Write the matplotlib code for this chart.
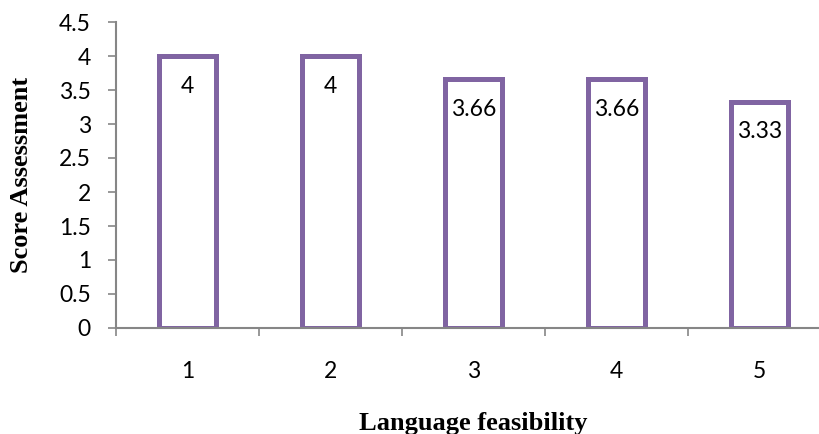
import matplotlib
matplotlib.use("Agg")
import matplotlib.pyplot as plt
from matplotlib.ticker import MultipleLocator, FixedLocator

categories = ["1", "2", "3", "4", "5"]
scores = [4, 4, 3.66, 3.66, 3.33]
score_labels = ["4", "4", "3.66", "3.66", "3.33"]

purple = "#8064A2"
axis_gray = "#868686"
tick_font = "Lato"
title_font = "Liberation Serif"

fig = plt.figure(figsize=(8.2, 4.34), dpi=100)
ax = fig.add_axes([116 / 820, 106 / 434, 715 / 820, 306 / 434])

x = list(range(1, len(categories) + 1))
bars = ax.bar(x, scores, width=0.4, facecolor="white", edgecolor=purple,
              linewidth=3.6, zorder=3)

for bar, value, text in zip(bars, scores, score_labels):
    ax.annotate(text, (bar.get_x() + bar.get_width() / 2, value),
                xytext=(0, -30), textcoords="offset pixels",
                ha="center", va="center", fontsize=16.5, family=tick_font,
                zorder=4)

ax.set_xlim(0.5, len(categories) + 0.5)
ax.set_ylim(0, 4.5)
ax.yaxis.set_major_locator(MultipleLocator(0.5))
ax.set_yticklabels([f"{v:g}" for v in ax.get_yticks()])

ax.set_xticks(x)
ax.set_xticklabels(categories)
ax.xaxis.set_minor_locator(FixedLocator([i + 0.5 for i in range(len(categories) + 1)]))
ax.tick_params(axis="x", which="major", length=0, pad=24)
ax.tick_params(axis="x", which="minor", length=6, width=1.2, color=axis_gray,
               direction="out")
ax.tick_params(axis="y", length=6, width=1.2, color=axis_gray, pad=12)
for lab in ax.get_xticklabels() + ax.get_yticklabels():
    lab.set_family(tick_font)
    lab.set_fontsize(16.5)

for side in ["top", "right"]:
    ax.spines[side].set_visible(False)
for side in ["left", "bottom"]:
    ax.spines[side].set_color(axis_gray)
    ax.spines[side].set_linewidth(1.5)
    ax.spines[side].set_zorder(5)

ax.set_xlabel("Language feasibility", family=title_font, fontweight="bold",
              fontsize=19)
ax.xaxis.set_label_coords(0.5, -0.276)
ax.set_ylabel("Score Assessment", family=title_font, fontweight="bold",
              fontsize=19)
ax.yaxis.set_label_coords(-0.116, 0.5)

fig.savefig("out.png", dpi=100)
